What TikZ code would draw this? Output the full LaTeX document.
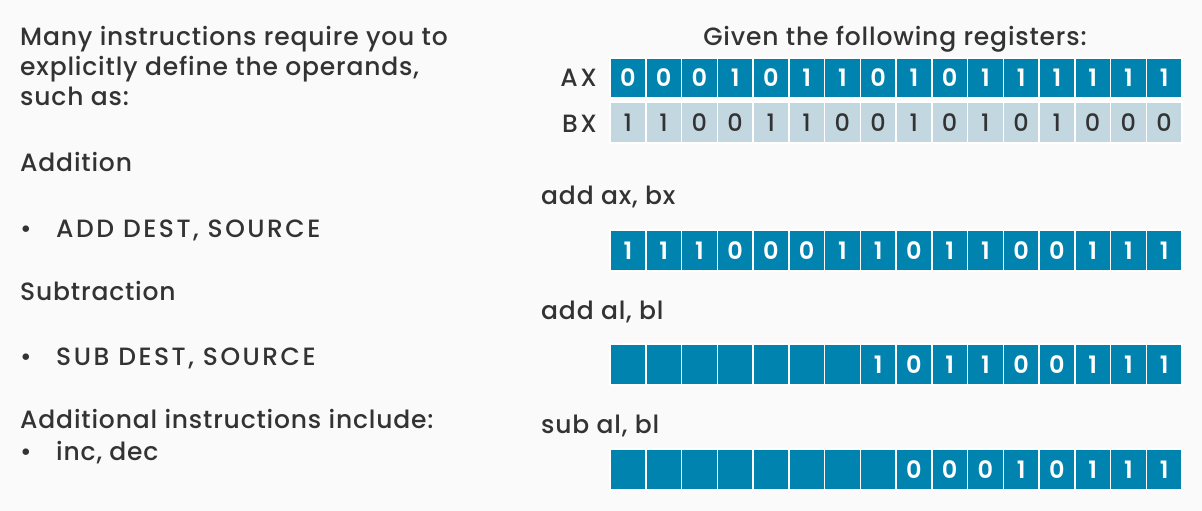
\documentclass[tikz,border=0pt]{standalone}
\usepackage{fontspec}
\setmainfont{Poppins}[UprightFont={* Medium}, LetterSpace=3.3]
\newfontfamily\digbold{Poppins}[UprightFont={* SemiBold}]
\newfontfamily\digreg{Poppins}[UprightFont={* Medium}]
\definecolor{bg}{HTML}{FAFAFA}
\definecolor{dark}{HTML}{0083AF}
\definecolor{light}{HTML}{C3D7E1}
\definecolor{txt}{HTML}{333333}
\tikzset{
  lbl/.style={anchor=base west, inner sep=0, text=txt, font=\fontsize{25}{30}\selectfont},
  caps/.style={lbl, font=\fontsize{25}{30}\selectfont\addfontfeature{LetterSpace=10}},
  dcell/.style={draw=white, line width=1.5pt, fill=dark, text=white, inner sep=0,
    minimum width=35.75pt, font=\digbold\fontsize{24}{26}\selectfont},
  lcell/.style={dcell, fill=light, text=txt, font=\digreg\fontsize{24}{26}\selectfont},
}
\newcommand\regrow[5]{%
  \foreach \b [count=\i from 0] in {#5} {
    \node[#4, minimum height=#3 pt] (#1-\i) at ({610+35.75*\i+17.875}, {#2+#3/2}) {\b};
  }%
}
\begin{document}
\begin{tikzpicture}[x=1pt,y=-1pt]
\fill[bg] (0,0) rectangle (1202,511);
\useasboundingbox (0,0) rectangle (1202,511);
% left column
\node[lbl] (t1) at (20,46) {Many instructions require you to};
\node[lbl] (t2) at (20,76) {explicitly define the operands,};
\node[lbl] (t3) at (20,106) {such as:};
\node[lbl] (t4) at (20,171) {Addition};
\node[lbl] (b1) at (20,237) {•};
\node[caps] (t5) at (56,237) {ADD DEST, SOURCE};
\node[lbl] (t6) at (20,300) {Subtraction};
\node[lbl] (b2) at (20,365) {•};
\node[caps] (t7) at (56,365) {SUB DEST, SOURCE};
\node[lbl] (t8) at (20,428) {Additional instructions include:};
\node[lbl] (b3) at (20,460) {•};
\node[lbl] (t9) at (56,460) {inc, dec};
% right column
\node[lbl, anchor=base] (g) at (895,46) {Given the following registers:};
\node[caps, anchor=base east] (ax) at (597,87) {AX};
\node[caps, anchor=base east] (bx) at (597,132) {BX};
\node[lbl] (i1) at (541,204) {add ax, bx};
\node[lbl] (i2) at (541,319) {add al, bl};
\node[lbl] (i3) at (541,433) {sub al, bl};
\regrow{r1}{58}{40}{dcell}{0,0,0,1,0,1,1,0,1,0,1,1,1,1,1,1}
\regrow{r2}{102}{41}{lcell}{1,1,0,0,1,1,0,0,1,0,1,0,1,0,0,0}
\regrow{r3}{230}{41}{dcell}{1,1,1,0,0,0,1,1,0,1,1,0,0,1,1,1}
\regrow{r4}{344}{41}{dcell}{{},{},{},{},{},{},{},1,0,1,1,0,0,1,1,1}
\regrow{r5}{449}{41}{dcell}{{},{},{},{},{},{},{},{},0,0,0,1,0,1,1,1}
\end{tikzpicture}
\end{document}
